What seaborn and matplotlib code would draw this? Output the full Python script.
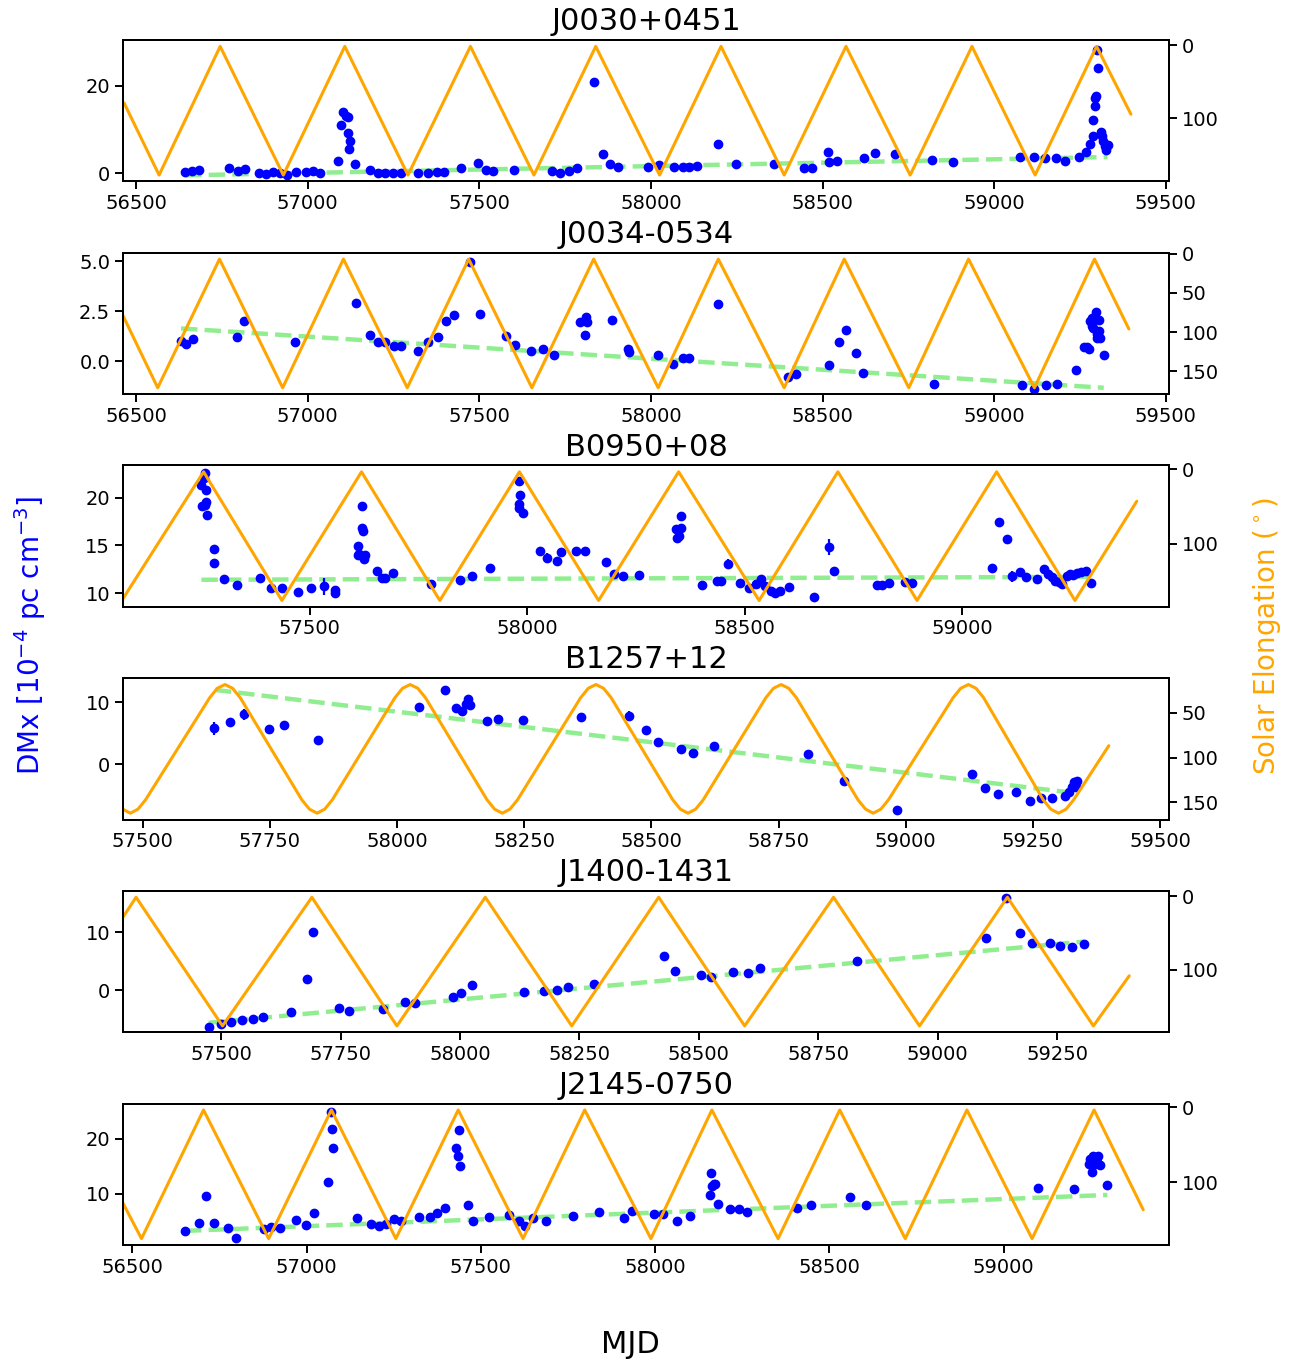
import matplotlib
matplotlib.use('Agg')
import matplotlib.pyplot as plt
import seaborn as sns

# ---------------- data ----------------
names = ['J0030+0451', 'J0034-0534', 'B0950+08', 'B1257+12', 'J1400-1431', 'J2145-0750']

# J0030+0451
j0030_mjd = [56643, 56663, 56684, 56771, 56796, 56816, 56859, 56878, 56898, 56918,
             56939, 56965, 56996, 57016, 57037, 57088, 57098, 57102, 57112, 57116,
             57118, 57122, 57120, 57139, 57182, 57204, 57225, 57247, 57272, 57320,
             57349, 57376, 57398, 57447, 57496, 57518, 57541, 57602, 57712, 57735,
             57761, 57784, 57835, 57859, 57882, 57904, 57990, 58023, 58067, 58092,
             58112, 58135, 58196, 58247, 58357, 58445, 58470, 58517, 58519, 58543,
             58621, 58653, 58710, 58819, 58880, 59074, 59115, 59148, 59180, 59205,
             59246, 59268, 59280, 59287, 59289, 59293, 59294, 59297, 59302, 59300,
             59310, 59314, 59318, 59322, 59324, 59330]
j0030_dmx = [0.2, 0.4, 0.8, 1.1, 0.4, 1.0, 0.1, -0.1, 0.2, 0.0,
             -0.3, 0.3, 0.2, 0.5, 0.0, 2.7, 11.1, 14.1, 13.2, 12.8,
             9.3, 7.3, 5.6, 2.1, 0.8, 0.0, 0.0, 0.0, 0.0, 0.1,
             0.1, 0.2, 0.2, 1.1, 2.4, 0.7, 0.5, 0.7, 0.6, 0.0,
             0.4, 1.3, 20.8, 4.4, 2.2, 1.5, 1.5, 1.8, 1.5, 1.5,
             1.5, 1.7, 6.6, 2.0, 2.2, 1.2, 1.2, 4.9, 2.5, 2.9,
             3.4, 4.6, 4.4, 3.0, 2.6, 3.7, 3.8, 3.4, 3.5, 2.9,
             3.7, 4.8, 6.7, 8.6, 12.1, 15.3, 17.1, 17.6, 24.0, 28.1,
             9.5, 8.4, 7.4, 6.3, 5.3, 6.5]
j0030_err = 0.15
j0030_fit_mjd = [56643, 59330]
j0030_fit_dmx = [-0.5, 3.7]
j0030_el_mjd = [56465, 56567, 56745, 56929, 57108, 57292, 57474, 57659, 57839, 58025,
                58204, 58388, 58568, 58755, 58935, 59119, 59298, 59398]
j0030_el_deg = [79, 178, 1.4, 178, 1.4, 178, 1.4, 178, 1.4, 178,
                1.4, 178, 1.4, 178, 1.4, 178, 1.4, 94.5]

# J0034-0534
j0034_mjd = [56631, 56645, 56665, 56794, 56814, 56963, 57141, 57182, 57206, 57225,
             57251, 57272, 57320, 57351, 57380, 57404, 57427, 57474, 57502, 57578,
             57604, 57651, 57684, 57718, 57794, 57812, 57808, 57813, 57886, 57933,
             57935, 58021, 58065, 58092, 58112, 58194, 58400, 58423, 58519, 58548,
             58568, 58597, 58619, 58825, 59080, 59115, 59150, 59182, 59239, 59260,
             59270, 59276, 59280, 59284, 59295, 59286, 59288, 59300, 59298, 59304,
             59306, 59308, 59319]
j0034_dmx = [1.02, 0.88, 1.10, 1.20, 2.02, 0.97, 2.90, 1.32, 0.98, 0.98,
             0.75, 0.77, 0.52, 0.98, 1.23, 2.03, 2.30, 4.95, 2.35, 1.27,
             0.82, 0.52, 0.60, 0.30, 1.95, 2.22, 1.32, 1.95, 2.08, 0.62,
             0.48, 0.30, -0.15, 0.15, 0.18, 2.88, -0.77, -0.62, -0.18, 0.98,
             1.58, 0.40, -0.58, -1.15, -1.18, -1.37, -1.17, -1.15, -0.43, 0.72,
             0.70, 0.60, 2.02, 2.18, 2.48, 1.75, 1.68, 1.35, 1.18, 2.05,
             1.52, 1.18, 0.32]
j0034_err = 0.04
j0034_fit_mjd = [56631, 59319]
j0034_fit_dmx = [1.65, -1.32]
j0034_el_mjd = [56453, 56563, 56743, 56927, 57104, 57290, 57469, 57653, 57833, 58021,
                58196, 58388, 58563, 58751, 58925, 59117, 59292, 59392]
j0034_el_deg = [71, 171, 7, 171, 7, 171, 7, 171, 7, 171,
                7, 171, 7, 171, 7, 171, 7, 96]

# B0950+08
b0950_mjd = [57251, 57259, 57256, 57262, 57252, 57262, 57259, 57264, 57280, 57280,
             57304, 57333, 57385, 57412, 57436, 57473, 57504, 57532, 57557, 57559,
             57611, 57614, 57612, 57619, 57619, 57622, 57625, 57627, 57654, 57667,
             57672, 57691, 57778, 57846, 57872, 57915, 57982, 57983, 57980, 57982,
             57990, 58030, 58045, 58069, 58078, 58111, 58133, 58182, 58199, 58219,
             58256, 58349, 58343, 58353, 58354, 58345, 58401, 58437, 58445, 58461,
             58490, 58509, 58525, 58538, 58546, 58561, 58569, 58580, 58601, 58658,
             58693, 58705, 58804, 58816, 58832, 58869, 58884, 59069, 59085, 59103,
             59114, 59133, 59147, 59171, 59187, 59198, 59206, 59214, 59222, 59230,
             59240, 59248, 59255, 59263, 59272, 59284, 59297]
b0950_dmx = [21.26, 22.55, 22.0, 20.8, 19.16, 19.48, 19.27, 18.15, 14.6, 13.15,
             11.47, 10.87, 11.6, 10.52, 10.52, 10.07, 10.52, 10.73, 10.35, 10.0,
             14.97, 14.1, 14.0, 19.1, 16.8, 16.5, 13.57, 14.0, 12.3, 11.54,
             11.54, 12.1, 10.94, 11.4, 11.75, 12.66, 21.75, 20.28, 19.37, 18.88,
             18.39, 14.44, 13.7, 13.39, 14.27, 14.37, 14.44, 13.22, 11.99, 11.75,
             11.89, 15.94, 16.71, 16.78, 18.11, 15.77, 10.84, 11.22, 11.26, 13.04,
             11.05, 10.59, 10.94, 11.5, 10.7, 10.24, 10.0, 10.21, 10.66, 9.55,
             14.83, 12.31, 10.84, 10.87, 11.08, 11.12, 11.05, 12.66, 17.41, 15.63,
             11.75, 12.2, 11.64, 11.43, 12.55, 11.99, 11.64, 11.29, 11.12, 10.94,
             11.82, 11.99, 11.89, 12.1, 12.24, 12.27, 11.05]
b0950_err = [0.15, 0.15, 0.15, 0.15, 0.15, 0.15, 0.15, 0.15, 0.15, 0.15,
             0.15, 0.15, 0.15, 0.15, 0.15, 0.15, 0.15, 0.9, 0.15, 0.15,
             0.15, 0.15, 0.15, 0.15, 0.15, 0.15, 0.15, 0.15, 0.15, 0.15,
             0.15, 0.15, 0.15, 0.15, 0.15, 0.15, 0.15, 0.15, 0.15, 0.15,
             0.15, 0.15, 0.5, 0.15, 0.15, 0.15, 0.15, 0.15, 0.15, 0.15,
             0.15, 0.15, 0.15, 0.15, 0.15, 0.15, 0.15, 0.15, 0.15, 0.5,
             0.15, 0.15, 0.15, 0.15, 0.15, 0.15, 0.15, 0.15, 0.15, 0.15,
             0.8, 0.15, 0.15, 0.15, 0.15, 0.15, 0.15, 0.15, 0.15, 0.15,
             0.6, 0.15, 0.15, 0.15, 0.15, 0.15, 0.15, 0.15, 0.15, 0.15,
             0.3, 0.15, 0.15, 0.15, 0.15, 0.15, 0.15]
b0950_fit_mjd = [57251, 59297]
b0950_fit_dmx = [11.4, 11.7]
b0950_el_mjd = [57068, 57256, 57436, 57619, 57799, 57982, 58164, 58348, 58533, 58714,
                58896, 59079, 59259, 59401]
b0950_el_deg = [176, 3.5, 176, 3.5, 176, 3.5, 176, 3.5, 176, 3.5,
                176, 3.5, 176, 43]

# B1257+12
b1257_mjd = [57641, 57671, 57699, 57749, 57778, 57845, 58044, 58094, 58116, 58128,
             58135, 58139, 58143, 58177, 58199, 58247, 58362, 58457, 58490, 58514,
             58559, 58581, 58624, 58807, 58878, 58983, 59131, 59156, 59182, 59217,
             59244, 59265, 59287, 59313, 59320, 59327, 59330, 59333, 59336, 59334]
b1257_dmx = [5.77, 6.74, 8.04, 5.65, 6.35, 3.86, 9.24, 12.05, 9.03, 8.6,
             9.68, 10.49, 9.51, 6.97, 7.3, 7.19, 7.62, 7.73, 5.57, 3.51,
             2.38, 1.84, 2.86, 1.57, -2.65, -7.35, -1.57, -3.84, -4.81, -4.43,
             -6.0, -5.46, -5.46, -5.14, -4.54, -3.73, -2.92, -3.19, -2.65, -3.62]
b1257_err = [1.1, 0.3, 0.85, 0.3, 0.3, 0.5, 0.3, 0.5, 0.3, 0.3,
             0.3, 0.3, 0.3, 0.3, 0.3, 0.3, 0.3, 0.8, 0.3, 0.3,
             0.3, 0.3, 0.3, 0.3, 0.3, 0.3, 0.3, 0.3, 0.3, 0.3,
             0.3, 0.3, 0.3, 0.3, 0.3, 0.3, 0.3, 0.3, 0.3, 0.3]
b1257_fit_mjd = [57642, 59320]
b1257_fit_dmx = [12.0, -4.54]
b1257_el_mjd = [57461, 57476, 57491, 57506, 57632, 57647, 57662, 57677, 57692,
                57813, 57828, 57843, 57858, 57873, 57996, 58011, 58026, 58041, 58056,
                58177, 58192, 58207, 58222, 58237, 58361, 58376, 58391, 58406, 58421,
                58542, 58557, 58572, 58587, 58602, 58725, 58740, 58755, 58770, 58785,
                58906, 58921, 58936, 58951, 58966, 59093, 59108, 59123, 59138, 59153,
                59270, 59285, 59300, 59315, 59330, 59399]
b1257_el_deg = [157.4, 162, 157.5, 147, 33, 22.5, 18.3, 22.5, 33,
                147, 157.5, 162, 157.5, 147, 33, 22.5, 18.3, 22.5, 33,
                147, 157.5, 162, 157.5, 147, 33, 22.5, 18.3, 22.5, 33,
                147, 157.5, 162, 157.5, 147, 33, 22.5, 18.3, 22.5, 33,
                147, 157.5, 162, 157.5, 147, 33, 22.5, 18.3, 22.5, 33,
                147, 157.5, 162, 157.5, 147, 86.6]

# J1400-1431
j1400_mjd = [57474, 57499, 57521, 57544, 57566, 57588, 57647, 57679, 57693, 57746,
             57768, 57838, 57884, 57905, 57985, 58003, 58025, 58135, 58175, 58203,
             58226, 58281, 58428, 58450, 58504, 58525, 58571, 58603, 58629, 58831,
             59101, 59144, 59172, 59198, 59235, 59257, 59281, 59307]
j1400_dmx = [-6.36, -5.78, -5.49, -5.09, -4.86, -4.57, -3.70, 1.91, 10.0, -3.0,
             -3.64, -3.24, -2.02, -2.14, -1.10, -0.40, 0.98, -0.35, -0.06, 0.0,
             0.52, 1.04, 5.95, 3.24, 2.66, 2.20, 3.18, 3.00, 3.82, 5.03,
             8.96, 15.9, 9.88, 8.15, 8.21, 7.63, 7.46, 8.03]
j1400_err = 0.2
j1400_fit_mjd = [57474, 59307]
j1400_fit_dmx = [-5.6, 8.38]
j1400_el_mjd = [57294, 57322, 57503, 57690, 57868, 58053, 58234, 58416, 58596, 58782,
                58962, 59146, 59326, 59401]
j1400_el_deg = [29, 1.3, 176, 1.3, 176, 1.3, 176, 1.3, 176, 1.3,
                176, 1.3, 176, 108]

# J2145-0750
j2145_mjd = [56651, 56690, 56712, 56734, 56774, 56798, 56879, 56899, 56923, 56968,
             56998, 57020, 57060, 57071, 57073, 57077, 57145, 57185, 57208, 57228,
             57252, 57272, 57323, 57353, 57375, 57397, 57429, 57433, 57439, 57437,
             57464, 57476, 57524, 57581, 57609, 57627, 57649, 57687, 57764, 57839,
             57911, 57935, 57996, 58024, 58062, 58099, 58157, 58163, 58169, 58161,
             58173, 58181, 58216, 58240, 58264, 58407, 58447, 58560, 58605, 59099,
             59203, 59246, 59248, 59254, 59258, 59264, 59268, 59272, 59278, 59298]
j2145_dmx = [3.37, 4.76, 9.7, 4.7, 3.8, 2.05, 3.61, 4.04, 3.8, 5.36,
             4.46, 6.63, 12.23, 24.94, 21.75, 18.31, 5.66, 4.64, 4.22, 4.52,
             5.54, 5.06, 5.84, 5.78, 6.57, 7.47, 18.37, 16.87, 15.12, 21.63,
             7.95, 5.06, 5.84, 6.27, 5.18, 4.16, 5.57, 5.06, 5.96, 6.69,
             5.66, 6.87, 6.33, 6.33, 5.12, 6.02, 9.88, 11.39, 11.87, 13.8,
             11.87, 8.13, 7.29, 7.29, 6.81, 7.47, 8.07, 9.46, 8.07, 11.02,
             10.96, 15.48, 16.39, 13.98, 16.81, 15.48, 15.78, 16.81, 15.3, 11.69]
j2145_err = 0.15
j2145_fit_mjd = [56651, 59298]
j2145_fit_dmx = [3.31, 9.82]
j2145_el_mjd = [56472, 56526, 56704, 56891, 57071, 57256, 57435, 57621, 57798, 57988,
                58163, 58353, 58530, 58718, 58895, 59082, 59260, 59401]
j2145_el_deg = [127, 175, 3.5, 175, 3.5, 175, 3.5, 175, 3.5, 175,
                3.5, 175, 3.5, 175, 3.5, 175, 3.5, 136.5]

# axis ranges / ticks
xlims = [(56461, 59510), (56461, 59510), (57070, 59476),
         (57461, 59518), (57294, 59485), (56472, 59476)]
ylims = [(-1.9, 30.5), (-1.64, 5.44), (8.56, 23.36),
         (-8.96, 13.9), (-7.24, 17.1), (0.74, 26.4)]
xticks = [list(range(56500, 59501, 500)), list(range(56500, 59501, 500)),
          list(range(57500, 59001, 500)), list(range(57500, 59501, 250)),
          list(range(57500, 59251, 250)), list(range(56500, 59001, 500))]
yticks = [[0, 20], [0.0, 2.5, 5.0], [10, 15, 20], [0, 10], [0, 10], [10, 20]]
rticks = [[0, 100], [0, 50, 100, 150], [0, 100], [50, 100, 150], [0, 100], [0, 100]]

# ---------------- plotting ----------------
sns.set_style('ticks', {'axes.edgecolor': 'black', 'xtick.color': 'black',
                        'ytick.color': 'black', 'text.color': 'black',
                        'axes.labelcolor': 'black'})
plt.rcParams['font.family'] = ['DejaVu Sans']
plt.rcParams['axes.linewidth'] = 1.4
plt.rcParams['xtick.major.size'] = 5.5
plt.rcParams['ytick.major.size'] = 5.5
plt.rcParams['xtick.major.width'] = 1.4
plt.rcParams['ytick.major.width'] = 1.4
plt.rcParams['xtick.labelsize'] = 14
plt.rcParams['ytick.labelsize'] = 14

panels = [
    (j0030_mjd, j0030_dmx, j0030_err, j0030_fit_mjd, j0030_fit_dmx, j0030_el_mjd, j0030_el_deg),
    (j0034_mjd, j0034_dmx, j0034_err, j0034_fit_mjd, j0034_fit_dmx, j0034_el_mjd, j0034_el_deg),
    (b0950_mjd, b0950_dmx, b0950_err, b0950_fit_mjd, b0950_fit_dmx, b0950_el_mjd, b0950_el_deg),
    (b1257_mjd, b1257_dmx, b1257_err, b1257_fit_mjd, b1257_fit_dmx, b1257_el_mjd, b1257_el_deg),
    (j1400_mjd, j1400_dmx, j1400_err, j1400_fit_mjd, j1400_fit_dmx, j1400_el_mjd, j1400_el_deg),
    (j2145_mjd, j2145_dmx, j2145_err, j2145_fit_mjd, j2145_fit_dmx, j2145_el_mjd, j2145_el_deg),
]

fig, axes = plt.subplots(6, 1, figsize=(13.08, 13.64), dpi=100)
fig.subplots_adjust(left=0.0938, right=0.894, top=0.9707, bottom=0.0872, hspace=0.503)

for i, (ax, name, p) in enumerate(zip(axes, names, panels)):
    mjd, dmx, err, fit_x, fit_y, el_x, el_y = p

    sns.lineplot(x=fit_x, y=fit_y, ax=ax, color='lightgreen', lw=3.2,
                 linestyle='--', estimator=None, sort=False)
    ax.errorbar(mjd, dmx, yerr=err, fmt='o', color='blue', ms=6,
                elinewidth=1.6, capsize=0, zorder=3)
    ax.set_xlim(xlims[i])
    ax.set_ylim(ylims[i])
    ax.set_xticks(xticks[i])
    ax.set_yticks(yticks[i])
    if i == 1:
        ax.set_yticklabels(['0.0', '2.5', '5.0'])
    ax.set_title(name, fontsize=22, pad=7)
    ax.set_xlabel('')
    ax.set_ylabel('')

    ax2 = ax.twinx()
    sns.lineplot(x=el_x, y=el_y, ax=ax2, color='orange', lw=2.2,
                 estimator=None, sort=False)
    ax2.set_yticks(rticks[i])
    ax2.invert_yaxis()
    ax2.set_ylabel('')
    ax2.set_xlim(xlims[i])

fig.text(0.023, 0.534, r'DMx [10$^{-4}$ pc cm$^{-3}$]', rotation=90,
         color='blue', fontsize=20, ha='center', va='center')
fig.text(0.969, 0.534, r'Solar Elongation ($^\circ$)', rotation=90,
         color='orange', fontsize=20, ha='center', va='center')
fig.text(0.482, 0.014, 'MJD', fontsize=22, ha='center', va='center')

fig.savefig('out.png', dpi=100)
